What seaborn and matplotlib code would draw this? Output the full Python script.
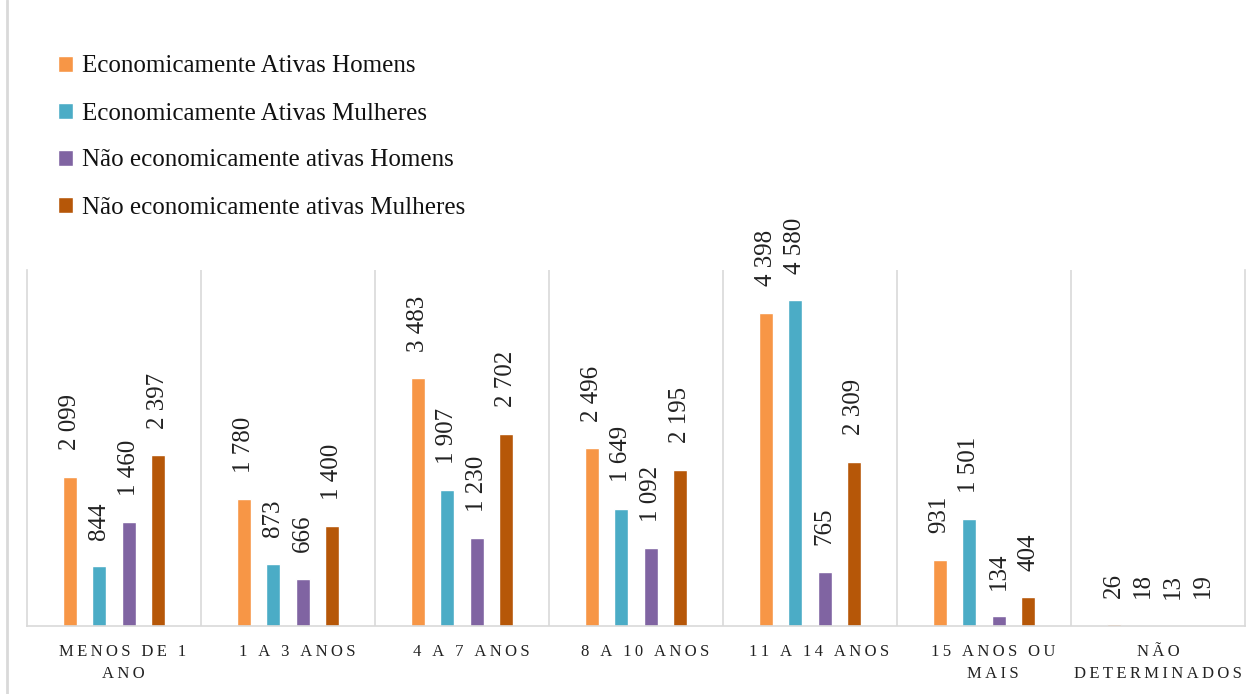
import pandas as pd
import seaborn as sns
import matplotlib.pyplot as plt
import matplotlib.transforms as mtransforms
from matplotlib.lines import Line2D

# Data
categories = ['MENOS DE 1\nANO', '1 A 3 ANOS', '4 A 7 ANOS', '8 A 10 ANOS',
              '11 A 14 ANOS', '15 ANOS OU\nMAIS', 'NÃO\nDETERMINADOS']
series = ['Economicamente Ativas Homens', 'Economicamente Ativas Mulheres',
          'Não economicamente ativas Homens', 'Não economicamente ativas Mulheres']
ativas_homens = [2099, 1780, 3483, 2496, 4398, 931, 26]
ativas_mulheres = [844, 873, 1907, 1649, 4580, 1501, 18]
nao_ativas_homens = [1460, 666, 1230, 1092, 765, 134, 13]
nao_ativas_mulheres = [2397, 1400, 2702, 2195, 2309, 404, 19]
colors = ['#F79646', '#4BACC6', '#8064A2', '#B65708']

df = pd.DataFrame({
    'categoria': categories * 4,
    'serie': [s for s in series for _ in categories],
    'valor': ativas_homens + ativas_mulheres + nao_ativas_homens + nao_ativas_mulheres,
})


def spaced(label):
    # letter-spaced look of the category labels
    return '\n'.join('\u2009'.join(line) for line in label.split('\n'))


sns.set_theme(style='white')
plt.rcParams['font.family'] = ['Liberation Serif', 'DejaVu Serif']

fig = plt.figure(figsize=(12.6, 6.94), dpi=100)
ax = fig.add_axes([27 / 1260, 68 / 694, 1218 / 1260, 356 / 694])

sns.barplot(data=df, x='categoria', y='valor', hue='serie', order=categories,
            hue_order=series, palette=colors, width=0.68, gap=0.53,
            saturation=1, ax=ax, legend=True)

for cont in ax.containers:
    ax.bar_label(cont, labels=[f'{v:,.0f}'.replace(',', ' ') for v in cont.datavalues],
                 rotation=90, padding=19, fontsize=18, color='#222222')

ax.set_ylim(0, 5000)
ax.set_xlim(-0.5, 6.5)
ax.set_yticks([])
ax.set_xlabel('')
ax.set_ylabel('')
ax.set_xticks(range(len(categories)))
ax.set_xticklabels([spaced(c) for c in categories], fontsize=12, color='#222222',
                   linespacing=1.5)
ax.tick_params(axis='x', which='both', length=0, pad=13)
# labels sit a little right of the group centre in the original (except the last one)
shift = mtransforms.ScaledTranslation(9 / 100, 0, fig.dpi_scale_trans)
for lbl in ax.get_xticklabels()[:-1]:
    lbl.set_transform(lbl.get_transform() + shift)
ax.grid(False)
for x in [i + 0.5 for i in range(6)]:
    ax.axvline(x, color='#D9D9D9', lw=1.2, zorder=0)
ax.spines['top'].set_visible(False)
for side in ['left', 'right', 'bottom']:
    ax.spines[side].set_color('#D9D9D9')
    ax.spines[side].set_linewidth(1.2)

handles, labels = ax.get_legend_handles_labels()
ax.get_legend().remove()
fig.legend(handles, labels, loc='upper left', bbox_to_anchor=(35 / 1260, 1 - 33 / 694),
           frameon=False, fontsize=18, handlelength=0.6, handleheight=0.6,
           handletextpad=0.4, labelspacing=1.0, labelcolor='#111111')

fig.add_artist(Line2D([7 / 1260, 7 / 1260], [0, 1], color='#D9D9D9', lw=2))

plt.savefig('out.png', dpi=100)
